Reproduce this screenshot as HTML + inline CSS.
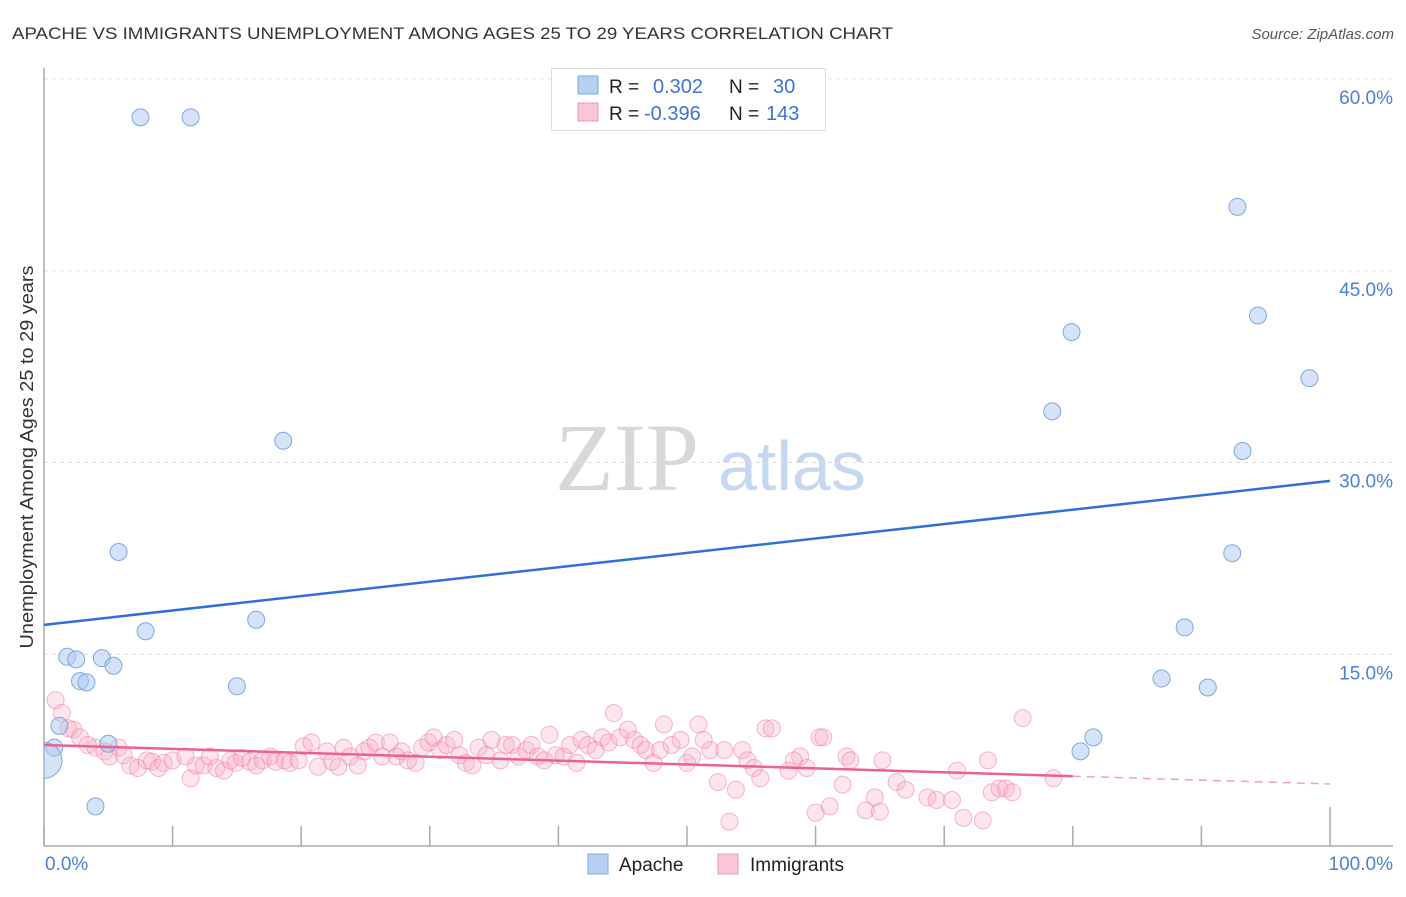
<!DOCTYPE html>
<html><head><meta charset="utf-8"><style>
body{margin:0;background:#fff;font-family:"Liberation Sans",sans-serif;}
svg text{font-family:"Liberation Sans",sans-serif;}
</style></head><body>
<svg id="chart" width="1406" height="892">
<text x="12" y="39" font-size="17" fill="#333" textLength="881" lengthAdjust="spacingAndGlyphs">APACHE VS IMMIGRANTS UNEMPLOYMENT AMONG AGES 25 TO 29 YEARS CORRELATION CHART</text>
<text x="1394" y="39" font-size="15" fill="#555" font-style="italic" text-anchor="end">Source: ZipAtlas.com</text>
<text transform="translate(33,457) rotate(-90)" font-size="18" fill="#333" text-anchor="middle" textLength="383" lengthAdjust="spacingAndGlyphs">Unemployment Among Ages 25 to 29 years</text>
<g><text x="555" y="490" font-size="96" font-family="Liberation Serif" fill="#d8d8d8" style="font-family:'Liberation Serif',serif">ZIP</text><text x="718" y="490" font-size="70" fill="#c5d8f0">atlas</text></g>
<g id="grid"></g>
<g id="axes"></g>
<defs><clipPath id="pc"><rect x="44" y="60" width="1360" height="786"/></clipPath></defs>
<g id="pts" clip-path="url(#pc)"></g>
<g id="lines"></g>
<g>
<rect x="551.5" y="68.5" width="274" height="62" fill="#fff" stroke="#ddd"/>
<rect x="578" y="76" width="20" height="18" fill="#b7d1f3" stroke="#7fa9df"/>
<rect x="578" y="103" width="20" height="18" fill="#f9c6d5" stroke="#ee9ab4"/>
<text x="609" y="93" font-size="19" fill="#222">R = </text><text x="653" y="93" font-size="20" fill="#3d74d0">0.302</text>
<text x="729" y="93" font-size="19" fill="#222">N = </text><text x="773" y="93" font-size="20" fill="#3d74d0">30</text>
<text x="609" y="120" font-size="19" fill="#222">R = </text><text x="644" y="120" font-size="20" fill="#3d74d0">-0.396</text>
<text x="729" y="120" font-size="19" fill="#222">N = </text><text x="766" y="120" font-size="20" fill="#3d74d0">143</text>
</g>
<g>
<rect x="588" y="854" width="20" height="20" fill="#b7d1f3" stroke="#7fa9df"/>
<text x="619" y="871" font-size="19" fill="#222">Apache</text>
<rect x="718" y="854" width="20" height="20" fill="#f9c6d5" stroke="#ee9ab4"/>
<text x="750" y="871" font-size="19" fill="#222">Immigrants</text>
</g>
</svg>
<script>
const yTicks=[15,30,45,60];
const yTickLabels=["15.0%","30.0%","45.0%","60.0%"];
const xTicks=[0,10,20,30,40,50,60,70,80,90,100];
const apacheX=[7.5,11.4,18.6,5.8,7.9,16.5,1.8,2.5,2.8,3.3,4.5,5.4,15.0,1.2,5.0,0.8,4.0,92.8,94.4,79.9,98.4,78.4,93.2,92.4,88.7,86.9,90.5,81.6,80.6];
const apacheY=[57.0,57.0,31.7,23.0,16.8,17.7,14.8,14.6,12.9,12.8,14.7,14.1,12.5,9.4,8.0,7.7,3.1,50.0,41.5,40.2,36.6,34.0,30.9,22.9,17.1,13.1,12.4,8.5,7.4];
const immX=[0.9,1.4,1.9,2.3,2.8,3.4,4.0,4.7,5.1,5.8,6.2,6.7,7.3,8.0,8.4,8.9,9.3,10.0,11.0,11.4,11.8,12.4,12.9,13.4,14.0,14.5,14.9,15.4,16.0,16.5,17.0,17.6,18.0,18.7,19.1,19.8,20.2,20.8,21.3,22.0,22.4,22.9,23.3,23.8,24.4,24.9,25.3,25.8,26.3,26.9,27.4,27.8,28.3,28.9,29.4,29.9,30.3,30.8,31.3,31.9,32.3,32.8,33.3,33.8,34.4,34.8,35.5,35.9,36.4,36.9,37.5,37.9,38.4,38.9,39.3,39.8,40.4,40.9,41.4,41.8,42.3,42.9,43.4,43.9,44.3,44.8,45.4,45.9,46.4,46.8,47.4,47.9,48.2,48.8,49.5,50.0,50.4,50.9,51.3,51.8,52.4,52.9,53.3,53.8,54.3,54.7,55.2,55.7,56.1,56.6,57.9,58.3,58.8,59.3,60.0,60.3,60.6,61.1,62.1,62.4,62.7,63.9,64.6,65.0,65.2,66.3,67.0,68.7,69.4,70.6,71.0,71.5,73.0,73.4,73.7,74.3,74.8,75.3,76.1,78.5];
const immY=[11.4,10.4,9.2,9.1,8.5,7.9,7.7,7.4,7.0,7.7,7.1,6.3,6.1,6.7,6.6,6.1,6.5,6.7,7.0,5.3,6.3,6.3,7.0,6.1,5.9,6.7,6.5,6.9,6.6,6.3,6.7,7.0,6.6,6.7,6.5,6.7,7.8,8.1,6.2,7.4,6.6,6.2,7.7,7.0,6.3,7.4,7.7,8.1,7.0,8.1,7.0,7.4,6.7,6.5,7.7,8.1,8.5,7.5,7.9,8.3,7.1,6.5,6.3,7.7,7.1,8.3,6.7,7.9,7.9,7.0,7.5,7.9,7.0,6.7,8.7,7.1,7.0,7.9,6.5,8.3,7.9,7.5,8.5,8.1,10.4,8.5,9.1,8.3,7.9,7.5,6.5,7.5,9.5,7.9,8.3,6.5,7.0,9.5,8.3,7.5,5.0,7.5,1.9,4.4,7.5,6.7,6.1,5.3,9.2,9.2,5.9,6.7,7.0,6.1,2.6,8.5,8.5,3.1,4.8,7.0,6.7,2.8,3.8,2.7,6.7,5.0,4.4,3.8,3.6,3.6,5.9,2.2,2.0,6.7,4.2,4.5,4.5,4.2,10.0,5.3];
const apacheTrend=[17.3,28.56];
const immTrend=[7.9,4.85];
const immTrendEnd=80;
const X0=44,X1=1330,Y0=846,YTOP60=79;
const sx=v=>X0+(X1-X0)*v/100;
const sy=v=>Y0-(Y0-YTOP60)*v/60;
const NS='http://www.w3.org/2000/svg';
function mk(t,a,p){const e=document.createElementNS(NS,t);for(const k in a)e.setAttribute(k,a[k]);p.appendChild(e);return e;}
const grid=document.getElementById('grid'),axes=document.getElementById('axes'),pts=document.getElementById('pts'),lines=document.getElementById('lines');
yTicks.forEach((v,i)=>{
 const l=mk('line',{x1:X0,x2:1393,y1:sy(v),y2:sy(v),stroke:'#ddd','stroke-dasharray':'4,4'},grid);
 
 
 const t=mk('text',{x:1393,y:sy(v)+25,'font-size':19,fill:'#4a80d6','text-anchor':'end'},grid);
 t.textContent=yTickLabels[i];
 
 
});
let a=mk('line',{x1:X0,x2:X0,y1:68,y2:Y0,stroke:'#aaa','stroke-width':1.5},axes);


a=mk('line',{x1:X0,x2:1393,y1:Y0,y2:Y0,stroke:'#aaa','stroke-width':1.5},axes);


xTicks.forEach(v=>{
 const tk=mk('line',{x1:sx(v),x2:sx(v),y1:v===100?807:826,y2:Y0,stroke:'#aaa','stroke-width':1.5},axes);
 
 
});
let t=mk('text',{x:45,y:870,'font-size':19,fill:'#4a80d6'},axes);t.textContent='0.0%';


t=mk('text',{x:1393,y:870,'font-size':19,fill:'#4a80d6','text-anchor':'end'},axes);t.textContent='100.0%';


immX.forEach((x,i)=>{
 const c=mk('circle',{cx:sx(x),cy:sy(immY[i]),r:8.5,fill:'rgba(247,170,195,0.3)',stroke:'rgba(236,130,165,0.55)','stroke-width':1},pts);
 
 
});
apacheX.forEach((x,i)=>{
 const c=mk('circle',{cx:sx(x),cy:sy(apacheY[i]),r:8.5,fill:'rgba(170,200,240,0.5)',stroke:'#7fa9df','stroke-width':1},pts);
 
 
});
const big=mk('circle',{cx:sx(0),cy:sy(6.7),r:18,fill:'rgba(170,200,240,0.5)',stroke:'#7fa9df','stroke-width':1},pts);


let ln=mk('line',{x1:sx(0),y1:sy(apacheTrend[0]),x2:sx(100),y2:sy(apacheTrend[1]),stroke:'#2f6fd6','stroke-width':2.5},lines);


const iy=x=>immTrend[0]+(immTrend[1]-immTrend[0])*x/100;
ln=mk('line',{x1:sx(0),y1:sy(iy(0)),x2:sx(immTrendEnd),y2:sy(iy(immTrendEnd)),stroke:'#e8638f','stroke-width':2.5},lines);


ln=mk('line',{x1:sx(immTrendEnd),y1:sy(iy(immTrendEnd)),x2:sx(100),y2:sy(iy(100)),stroke:'#e8638f','stroke-width':1.5,'stroke-dasharray':'8,6',opacity:0.6},lines);


</script>
</body></html>
